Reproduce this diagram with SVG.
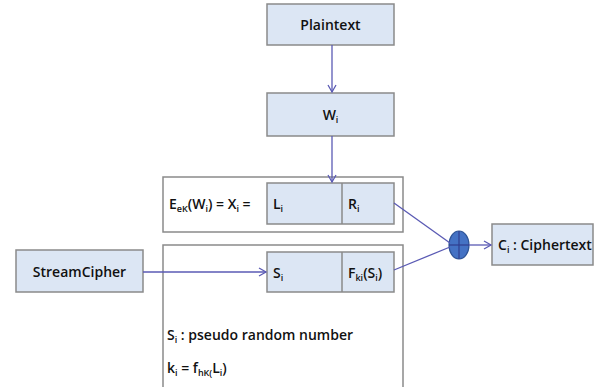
<svg xmlns="http://www.w3.org/2000/svg" width="595" height="387" viewBox="0 0 595 387">
<defs>
<style>
.box{fill:#dce6f4;stroke:#8a8a8a;stroke-width:1.5}
.frame{fill:#ffffff;stroke:#8a8a8a;stroke-width:1.5}
.t{font-family:"Open Sans","Noto Sans",sans-serif;font-weight:600;font-size:14px;fill:#111}
.s{font-size:9px}
.c{stroke:#5a5ab4;stroke-width:1.3;fill:none}
</style>
<marker id="ah" markerWidth="10" markerHeight="10" refX="8" refY="5" orient="auto" markerUnits="userSpaceOnUse">
<path d="M1,1 L8,5 L1,9" fill="none" stroke="#5a5ab4" stroke-width="1.3"/>
</marker>
</defs>
<rect width="595" height="387" fill="#ffffff"/>
<g id="frame1"><rect class="frame" x="163" y="177" width="240" height="55"/></g>
<g id="frame2"><rect class="frame" x="163" y="245" width="240" height="150"/></g>
<g id="plaintext"><rect class="box" x="267" y="4" width="127" height="41"/><text class="t" x="330.5" y="30" text-anchor="middle">Plaintext</text></g>
<g id="wi"><rect class="box" x="267" y="93" width="127" height="43"/><text class="t" x="330.5" y="120" text-anchor="middle">W<tspan class="s" dy="3">i</tspan></text></g>
<g id="eq"><text class="t" x="169" y="209">E<tspan class="s" dy="3">eK</tspan><tspan dy="-3">(W</tspan><tspan class="s" dy="3">i</tspan><tspan dy="-3">) = X</tspan><tspan class="s" dy="3">i</tspan><tspan dy="-3"> =</tspan></text></g>
<g id="xi"><rect class="box" x="267" y="183" width="127" height="41"/><line x1="342" y1="183" x2="342" y2="224" stroke="#8a8a8a" stroke-width="1.5"/><text class="t" x="273" y="209">L<tspan class="s" dy="3">i</tspan></text><text class="t" x="348" y="209">R<tspan class="s" dy="3">i</tspan></text></g>
<g id="si"><rect class="box" x="267" y="252" width="127" height="40"/><line x1="342" y1="252" x2="342" y2="292" stroke="#8a8a8a" stroke-width="1.5"/><text class="t" x="273" y="278">S<tspan class="s" dy="3">i</tspan></text><text class="t" x="348" y="278">F<tspan class="s" dy="3">ki</tspan><tspan dy="-3">(S</tspan><tspan class="s" dy="3">i</tspan><tspan dy="-3">)</tspan></text></g>
<g id="notes"><text class="t" x="167" y="340">S<tspan class="s" dy="3">i</tspan><tspan dy="-3"> : pseudo random number</tspan></text><text class="t" x="167" y="373">k<tspan class="s" dy="3">i</tspan><tspan dy="-3"> = f</tspan><tspan class="s" dy="3">hK(</tspan><tspan dy="-3">L</tspan><tspan class="s" dy="3">i</tspan><tspan dy="-3">)</tspan></text></g>
<g id="stream"><rect class="box" x="16" y="250" width="127" height="42"/><text class="t" x="79.5" y="277" text-anchor="middle">StreamCipher</text></g>
<g id="xor"><ellipse cx="459" cy="245" rx="10" ry="14" fill="#4472c4" stroke="#2f5597" stroke-width="1.2"/><line x1="449" y1="245" x2="469" y2="245" stroke="#2f3f8f" stroke-width="1.2"/><line x1="459" y1="231" x2="459" y2="259" stroke="#2f3f8f" stroke-width="1.2"/></g>
<g id="cipher"><rect class="box" x="492" y="224" width="101" height="41"/><text class="t" x="498" y="250">C<tspan class="s" dy="3">i</tspan><tspan dy="-3"> : Ciphertext</tspan></text></g>
<g id="connectors">
<line class="c" x1="332" y1="45" x2="332" y2="92" marker-end="url(#ah)"/>
<line class="c" x1="332" y1="136" x2="332" y2="182" marker-end="url(#ah)"/>
<line class="c" x1="143" y1="272" x2="266" y2="272" marker-end="url(#ah)"/>
<line class="c" x1="394" y1="203" x2="450" y2="243"/>
<line class="c" x1="394" y1="270" x2="450" y2="247"/>
<line class="c" x1="469" y1="245" x2="491" y2="245" marker-end="url(#ah)"/>
</g>
</svg>
